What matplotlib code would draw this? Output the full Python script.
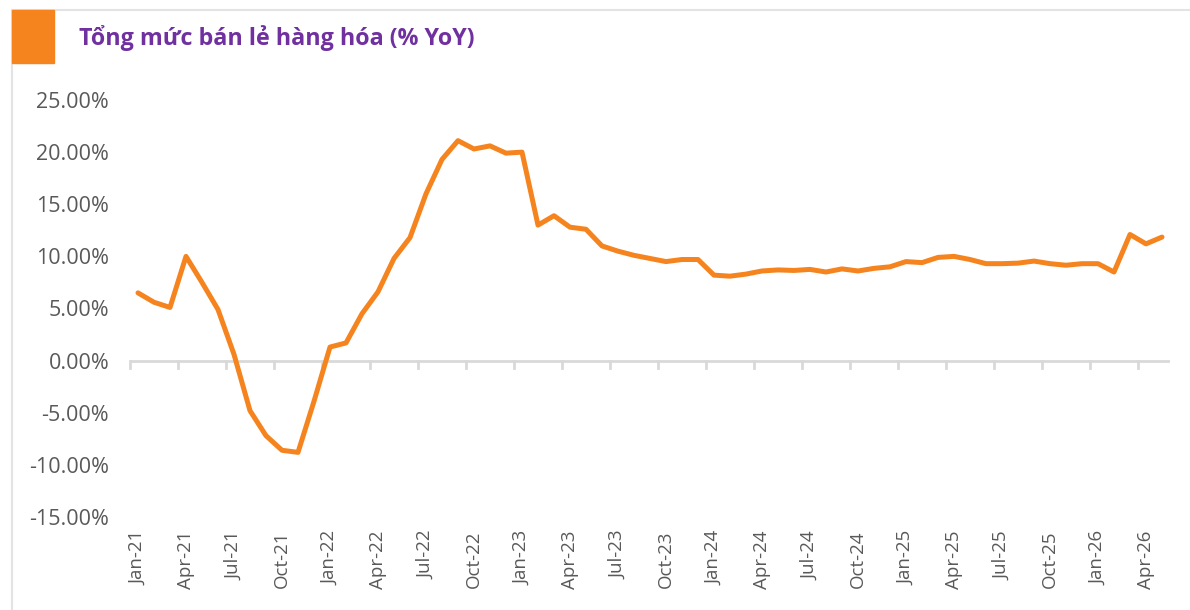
import matplotlib
matplotlib.use("Agg")
import matplotlib.pyplot as plt
from matplotlib.patches import Rectangle
from matplotlib.lines import Line2D
from matplotlib.ticker import FuncFormatter

title = "Tổng mức bán lẻ hàng hóa (% YoY)"
months = ["Jan", "Feb", "Mar", "Apr", "May", "Jun", "Jul", "Aug", "Sep", "Oct", "Nov", "Dec"]
years = ["21", "22", "23", "24", "25", "26"]
categories = [f"{m}-{y}" for y in years for m in months][:65]  # Jan-21 .. May-26

values = [
    6.5, 5.6, 5.1, 10.0, 7.5, 4.9, 0.6, -4.8, -7.2, -8.6, -8.8, -3.9,
    1.3, 1.7, 4.5, 6.6, 9.8, 11.8, 16.0, 19.3, 21.1, 20.3, 20.6, 19.9,
    20.0, 13.0, 13.9, 12.8, 12.6, 11.0, 10.5, 10.1, 9.8, 9.5, 9.7, 9.7,
    8.2, 8.1, 8.3, 8.6, 8.7, 8.65, 8.75, 8.5, 8.8, 8.6, 8.85, 9.0,
    9.5, 9.4, 9.9, 10.0, 9.7, 9.3, 9.3, 9.35, 9.55, 9.3, 9.15, 9.3,
    9.3, 8.5, 12.1, 11.2, 11.85,
]
yticks = [-15, -10, -5, 0, 5, 10, 15, 20, 25]

orange = "#F5841F"
purple = "#7030A0"
gray_txt = "#595959"
axis_gray = "#D9D9D9"

fig = plt.figure(figsize=(11.9, 6.1), dpi=100)
fig.patch.set_facecolor("white")

W, H = 1190, 610
# frame lines (top and left), light gray
fig.add_artist(Line2D([12 / W, 1.0], [1 - 10 / H, 1 - 10 / H], color="#E3E3E3", lw=1.5,
                      transform=fig.transFigure))
fig.add_artist(Line2D([12 / W, 12 / W], [0, 1 - 10 / H], color="#E3E3E3", lw=1.5,
                      transform=fig.transFigure))
# orange square
fig.add_artist(Rectangle((12 / W, 1 - 63 / H), 42 / W, 53 / H, color=orange,
                         transform=fig.transFigure, zorder=5))
fig.text(79 / W, 1 - 38 / H, title, color=purple, fontsize=16.75, fontweight="bold",
         family="Open Sans", va="center", ha="left")

ax = fig.add_axes([130 / W, 93 / H, 1040 / W, 417 / H])
x = list(range(len(values)))
ax.plot(x, values, color=orange, lw=3.6, solid_joinstyle="round", solid_capstyle="round", zorder=3)

ax.set_xlim(-0.5, len(values) - 0.5)
ax.set_ylim(-15, 25)
ax.set_yticks(yticks)
ax.yaxis.set_major_formatter(FuncFormatter(lambda v, p: f"{v:.2f}%"))
for s in ax.spines.values():
    s.set_visible(False)
ax.tick_params(axis="y", length=0, pad=15, labelsize=15.5, labelcolor=gray_txt)
for lab in ax.get_yticklabels():
    lab.set_family("Open Sans")

# category labels every 3 months, placed at bottom
xt = x[::3]
ax.set_xticks(xt)
ax.set_xticklabels([categories[i] for i in xt], rotation=90, family="Open Sans",
                   fontsize=13.5, color=gray_txt)
ax.tick_params(axis="x", length=0, pad=10)

# horizontal axis line at zero with tick marks between categories
ax.axhline(0, color=axis_gray, lw=2, zorder=1)
for i in range(0, len(values) + 1, 3):
    ax.plot([i - 0.5, i - 0.5], [0, -0.7], color=axis_gray, lw=2, zorder=1, clip_on=False)

fig.savefig("out.png", dpi=100, facecolor="white")
